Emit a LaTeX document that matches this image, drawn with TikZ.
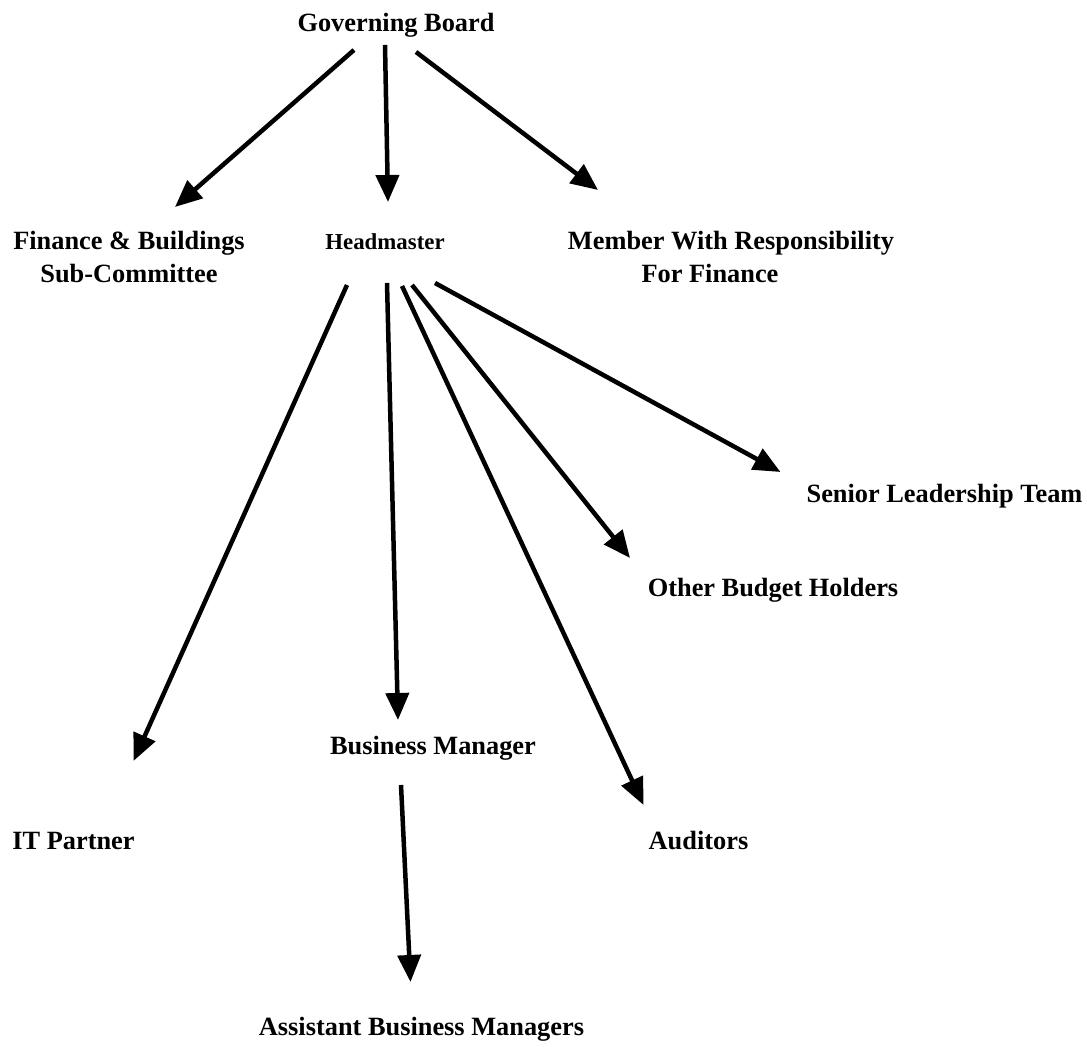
\documentclass[tikz,border=0pt]{standalone}
\usepackage{fontspec}
\setmainfont{Liberation Serif}
\usepackage{tikz}
\usetikzlibrary{arrows.meta}

\begin{document}
\begin{tikzpicture}[
		lbl/.style={font=\fontsize{15}{18.8}\selectfont\bfseries, inner sep=0pt, anchor=base},
		lblsmall/.style={lbl, font=\fontsize{13}{16}\selectfont\bfseries},
		lbltwo/.style={lbl, align=center, anchor=north},
		arr/.style={line width=0.09cm, -{Triangle[length=0.54cm, width=0.46cm]}}
	]
				\useasboundingbox (0, 0) rectangle (21.74, 20.94);
				
				%Level 1
				\node[lbl] (gb) at (7.92, 20.30) {Governing Board};
				
				%Level 2
				\node[lbltwo] (fin) at (2.58, 16.32) {Finance \& Buildings\\Sub-Committee};
				\node[lblsmall] (head) at (7.70, 15.94) {Headmaster};
				\node[lbltwo] (mem) at (14.62, 16.32) {Member With Responsibility\\For Finance\hspace*{0.84cm}\mbox{}};
				
				%Lines
				\draw[arr] ([xshift=-0.84cm, yshift=-0.36cm]gb.base) -- ([xshift=0.92cm, yshift=0.48cm]fin.north);
				\draw[arr] ([xshift=-0.22cm, yshift=-0.26cm]gb.base) -- ([xshift=0.06cm, yshift=0.96cm]head.base);
				\draw[arr] ([xshift=0.40cm, yshift=-0.40cm]gb.base) -- ([xshift=-2.66cm, yshift=0.82cm]mem.north);
				
				%Level 3
				\node[lbl] (slt) at (18.89, 10.88) {Senior Leadership Team};
				\node[lbl] (obh) at (15.46, 9.00) {Other Budget Holders};
				\node[lbl] (bm) at (8.66, 5.84) {Business Manager};
				\node[lbl] (it) at (1.47, 3.94) {IT Partner};
				\node[lbl] (aud) at (13.97, 3.94) {Auditors};
				
				%Lines
				\draw[arr] ([xshift=-0.76cm, yshift=-0.70cm]head.base) -- ([xshift=1.20cm, yshift=1.78cm]it.base);
				\draw[arr] ([xshift=0.04cm, yshift=-0.66cm]head.base) -- ([xshift=-0.70cm, yshift=0.70cm]bm.base);
				\draw[arr] ([xshift=0.34cm, yshift=-0.72cm]head.base) -- ([xshift=-1.10cm, yshift=0.90cm]aud.base);
				\draw[arr] ([xshift=0.54cm, yshift=-0.70cm]head.base) -- ([xshift=-2.86cm, yshift=0.78cm]obh.base);
				\draw[arr] ([xshift=1.00cm, yshift=-0.66cm]head.base) -- ([xshift=-3.28cm, yshift=0.62cm]slt.base);
				
				%Level 4
				\node[lbl] (abm) at (8.43, 0.22) {Assistant Business Managers};
				
				%Lines
				\draw[arr] ([xshift=-0.64cm, yshift=-0.60cm]bm.base) -- ([xshift=-0.22cm, yshift=1.08cm]abm.base);
			\end{tikzpicture}
\end{document}
